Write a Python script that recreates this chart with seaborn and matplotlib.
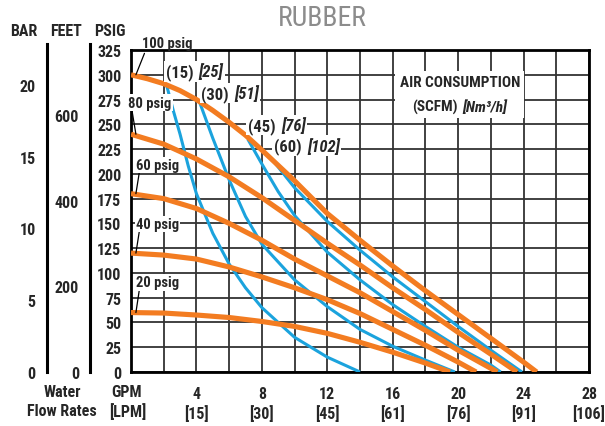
import matplotlib
matplotlib.use("Agg")
import matplotlib.pyplot as plt
import seaborn as sns
from matplotlib import font_manager
from matplotlib.offsetbox import TextArea, HPacker, VPacker, AnnotationBbox

# pressure curves (water flow GPM -> discharge PSIG)
gpm_100 = [0, 1, 2, 3, 4, 5, 6, 7, 8, 10, 12, 14, 16, 18, 20, 22, 24, 24.8]
psi_100 = [300, 296, 291, 284, 275, 264, 252, 239, 224, 193, 160, 133, 107, 82, 58, 34, 10, 0]
gpm_80 = [0, 2, 4, 6, 8, 10, 12, 14, 16, 18, 20, 22, 23.6]
psi_80 = [240, 230, 215, 197, 176, 153, 130, 108, 85, 63, 40, 18, 0]
gpm_60 = [0, 2, 4, 6, 8, 10, 12, 14, 16, 18, 20, 22.4]
psi_60 = [180, 175, 165, 150, 133, 114, 97, 80, 61, 42, 22, 0]
gpm_40 = [0, 2, 4, 6, 8, 10, 12, 14, 16, 18, 20, 21.1]
psi_40 = [120, 118, 114, 106, 96, 85, 73, 59, 43, 27, 10, 0]
gpm_20 = [0, 2, 4, 6, 8, 10, 12, 14, 16, 18, 19.5]
psi_20 = [60, 59.5, 57.5, 55, 51, 46, 39, 30, 20, 9, 0]
psig_names = ["100 psig", "80 psig", "60 psig", "40 psig", "20 psig"]

# air consumption curves (SCFM)
gpm_s15 = [2.2, 2.6, 3.0, 3.5, 4.0, 5.0, 6.0, 7.0, 8.0, 10.0, 12.0, 14.0]
psi_s15 = [288, 263, 240, 208, 180, 140, 109, 85, 65, 35, 15, 0]
gpm_s30 = [4.2, 5.0, 6.0, 7.0, 8.0, 10.0, 12.0, 14.0, 16.0, 18.0, 19.8]
psi_s30 = [272, 236, 194, 157, 129, 93, 66, 43, 26, 12, 0]
gpm_s45 = [7.14, 8.0, 9.0, 10.0, 12.0, 14.0, 16.0, 18.0, 20.0, 22.0, 22.6]
psi_s45 = [235, 210, 182, 158, 121, 93, 68, 46, 25, 7, 0]
gpm_s60 = [8.56, 10.0, 12.0, 14.0, 16.0, 18.0, 20.0, 22.0, 23.9]
psi_s60 = [216, 186, 152, 123, 96, 71, 46, 22, 0]
scfm_names = ["(15)", "(30)", "(45)", "(60)"]
nm3h_names = ["[25]", "[51]", "[76]", "[102]"]

# axis ticks
gpm_ticks = [4, 8, 12, 16, 20, 24, 28]
lpm_ticks = [15, 30, 45, 61, 76, 91, 106]
psig_ticks = list(range(0, 326, 25))
bar_ticks = [0, 5, 10, 15, 20]
feet_ticks = [0, 200, 400, 600]

ORANGE = "#F37C21"
BLUE = "#1BA3DD"
W, H = 605, 427

sns.set_style("white")
names = {f.name for f in font_manager.fontManager.ttflist}
FONT = "DejaVu Sans"
for cand in ["Liberation Sans Narrow", "Roboto Condensed", "Open Sans Condensed", "Liberation Sans"]:
    if cand in names:
        FONT = cand
        break
plt.rcParams["font.family"] = [FONT, "DejaVu Sans"]
plt.rcParams["font.weight"] = "bold"

fig = plt.figure(figsize=(W / 100, H / 100), dpi=100)
ax = fig.add_axes([131 / W, 1 - 373 / H, 458 / W, 322 / H])

pressure = [(gpm_100, psi_100), (gpm_80, psi_80), (gpm_60, psi_60), (gpm_40, psi_40), (gpm_20, psi_20)]
air = [(gpm_s15, psi_s15), (gpm_s30, psi_s30), (gpm_s45, psi_s45), (gpm_s60, psi_s60)]

for g, p in air:
    sns.lineplot(x=g, y=p, ax=ax, color=BLUE, linewidth=2.2, sort=False, legend=False, zorder=3)
for g, p in pressure:
    sns.lineplot(x=g, y=p, ax=ax, color=ORANGE, linewidth=3.7, sort=False, legend=False, zorder=4)
for line in ax.lines:
    line.set_solid_capstyle("butt")

ax.set_xlim(0, 28)
ax.set_ylim(0, 325)
ax.set_xticks(gpm_ticks)
ax.set_xticks(range(2, 28, 2), minor=True)
ax.set_xticklabels([f"{g}\n[{l}]" for g, l in zip(gpm_ticks, lpm_ticks)],
                   fontsize=11.5, fontweight="bold", linespacing=1.25)
ax.set_yticks(psig_ticks)
ax.set_yticklabels([str(t) for t in psig_ticks], fontsize=11.5, fontweight="bold")
ax.tick_params(axis="both", which="both", length=0)
ax.tick_params(axis="x", pad=10)
ax.tick_params(axis="y", pad=7)
ax.grid(True, which="both", color="#333333", linewidth=1.3)
ax.set_axisbelow(True)
for s in ax.spines.values():
    s.set_color("black")
    s.set_linewidth(2)
ax.set_xlabel("")
ax.set_ylabel("")

# psig labels with leader lines to the start of each curve
psig_label_pos = [(2.2, 332), (1.16, 272), (1.62, 209), (1.62, 149.5), (1.62, 90.4)]
for name, (g, p), pos in zip(psig_names, pressure, psig_label_pos):
    box = None if name == "100 psig" else dict(boxstyle="square,pad=0.08", fc="white", ec="none")
    ax.annotate(name, xy=(0.3, p[0]), xytext=pos, textcoords="data", ha="center", va="center",
                fontsize=10.5, fontweight="bold", bbox=box, annotation_clip=False, zorder=6,
                arrowprops=dict(arrowstyle="-", color="black", lw=0.9, relpos=(0.08, 0),
                                shrinkA=0, shrinkB=0))

# air consumption labels at the top of each blue curve
label_offsets = [(-1, 11), (1, 7), (0, 10), (2, 9)]
for a, b, (g, p), off in zip(scfm_names, nm3h_names, air, label_offsets):
    t1 = TextArea(a, textprops=dict(fontsize=12, fontweight="bold"))
    t2 = TextArea(b, textprops=dict(fontsize=12, fontweight="bold", fontstyle="italic"))
    pack = HPacker(children=[t1, t2], align="baseline", pad=0, sep=4)
    ab = AnnotationBbox(pack, (g[0], p[0]), xybox=off, xycoords="data", boxcoords="offset points",
                        box_alignment=(0, 0.5), frameon=True, pad=0.1,
                        bboxprops=dict(fc="white", ec="none", boxstyle="square,pad=0.1"), zorder=6)
    ax.add_artist(ab)

# AIR CONSUMPTION legend box
l1 = TextArea("AIR CONSUMPTION", textprops=dict(fontsize=11, fontweight="bold"))
l2a = TextArea("(SCFM)", textprops=dict(fontsize=11, fontweight="bold"))
l2b = TextArea("[Nm³/h]", textprops=dict(fontsize=11, fontweight="bold", fontstyle="italic"))
legend_pack = VPacker(children=[l1, HPacker(children=[l2a, l2b], align="baseline", pad=0, sep=3)],
                      align="center", pad=0, sep=7)
ab = AnnotationBbox(legend_pack, (20.1, 280), xycoords="data", box_alignment=(0.5, 0.5), frameon=True,
                    pad=0.2, bboxprops=dict(fc="white", ec="none", boxstyle="square"), zorder=5)
ax.add_artist(ab)

# BAR and FEET scales to the left
PSI_TOP = 331
for xpx, factor, ticks in [(46.7, 1 / 14.5038, bar_ticks), (90, 2.31, feet_ticks)]:
    sub = fig.add_axes([xpx / W, 1 - 373 / H, 0.0001, (PSI_TOP * 0.99) / H])
    sub.set_ylim(0, PSI_TOP * factor)
    sub.set_yticks(ticks)
    sub.set_yticklabels([str(t) for t in ticks], fontsize=11.5, fontweight="bold")
    sub.tick_params(axis="y", direction="out", length=4, width=2, pad=4)
    sub.set_xticks([])
    for k in ["top", "right", "bottom"]:
        sub.spines[k].set_visible(False)
    sub.spines["left"].set_linewidth(2.2)
    sub.spines["left"].set_color("black")
    sub.patch.set_visible(False)

for txt, xpx in [("BAR", 23.5), ("FEET", 66), ("PSIG", 109.5)]:
    fig.text(xpx / W, 1 - 31 / H, txt, ha="center", va="center", fontsize=11.5, fontweight="bold")
fig.text(62 / W, 1 - 392.5 / H, "Water", ha="center", va="center", fontsize=11.5, fontweight="bold")
fig.text(62 / W, 1 - 412 / H, "Flow Rates", ha="center", va="center", fontsize=11.5, fontweight="bold")
fig.text(127 / W, 1 - 392.5 / H, "GPM", ha="center", va="center", fontsize=11.5, fontweight="bold")
fig.text(127.5 / W, 1 - 412 / H, "[LPM]", ha="center", va="center", fontsize=11.5, fontweight="bold")

fig.text(322.5 / W, 1 - 18.5 / H, "RUBBER", ha="center", va="center", fontsize=20,
         color="#8c8c8c", fontweight="normal")

fig.savefig("out.png", dpi=100)
